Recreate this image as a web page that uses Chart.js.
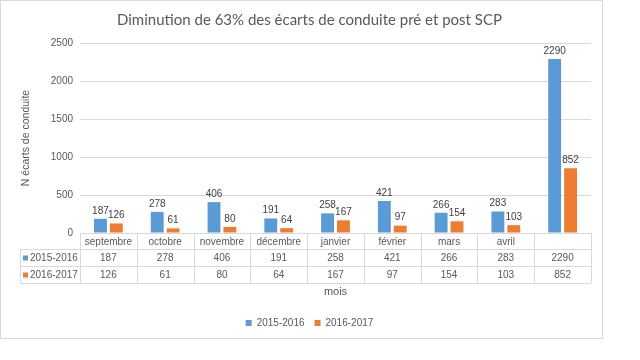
<!DOCTYPE html>
<html>
<head>
<meta charset="utf-8">
<script src="https://cdn.jsdelivr.net/npm/chart.js@4.4.0/dist/chart.umd.min.js"></script>
<style>
  body { margin: 0; background: #fff; }
  canvas { display: block; }
</style>
</head>
<body>
<canvas id="ecartsChart" width="640" height="360"></canvas>
<script>
var mois = ["septembre", "octobre", "novembre", "décembre", "janvier", "février", "mars", "avril", ""];
var serie1516 = [187, 278, 406, 191, 258, 421, 266, 283, 2290];
var serie1617 = [126, 61, 80, 64, 167, 97, 154, 103, 852];
var nomsSeries = ["2015-2016", "2016-2017"];
var couleurs = ["#5B9BD5", "#ED7D31"];

var texteGris = "#595959";
var ligneGrise = "#D9D9D9";
var police = "'Liberation Sans', Arial, sans-serif";

// fond blanc + cadre gris autour du graphique
var cadre = {
    id: "cadre",
    beforeDraw: function (chart) {
        var ctx = chart.ctx;
        ctx.save();
        ctx.fillStyle = "#fff";
        ctx.fillRect(0, 0, chart.width, chart.height);
        ctx.strokeStyle = ligneGrise;
        ctx.lineWidth = 1;
        ctx.strokeRect(0.5, 0.5, 602, 338);
        ctx.restore();
    }
};

// étiquettes de valeur au-dessus des barres
var etiquettes = {
    id: "etiquettes",
    afterDatasetsDraw: function (chart) {
        var ctx = chart.ctx;
        ctx.save();
        ctx.font = "10px " + police;
        ctx.fillStyle = "#404040";
        ctx.textAlign = "center";
        ctx.textBaseline = "bottom";
        chart.data.datasets.forEach(function (ds, d) {
            chart.getDatasetMeta(d).data.forEach(function (bar, i) {
                ctx.fillText(ds.data[i], bar.x, bar.y - 3);
            });
        });
        ctx.restore();
    }
};

// tableau de données sous l'axe des x
var tableau = {
    id: "tableau",
    afterDraw: function (chart) {
        var ctx = chart.ctx;
        var area = chart.chartArea;
        var n = mois.length;
        var w = (area.right - area.left) / n;
        var y0 = area.bottom;
        var rows = [y0, y0 + 16, y0 + 33, y0 + 50];
        var xLeg = 20;

        ctx.save();
        ctx.strokeStyle = ligneGrise;
        ctx.lineWidth = 1;
        ctx.beginPath();
        // lignes horizontales
        ctx.moveTo(area.left, rows[0] + 0.5);
        ctx.lineTo(area.right, rows[0] + 0.5);
        for (var r = 1; r < rows.length; r++) {
            ctx.moveTo(xLeg, Math.round(rows[r]) + 0.5);
            ctx.lineTo(area.right, Math.round(rows[r]) + 0.5);
        }
        // lignes verticales
        for (var i = 0; i <= n; i++) {
            var x = Math.round(area.left + i * w) + 0.5;
            ctx.moveTo(x, rows[0]);
            ctx.lineTo(x, rows[3]);
        }
        ctx.moveTo(xLeg + 0.5, rows[1]);
        ctx.lineTo(xLeg + 0.5, rows[3]);
        ctx.stroke();

        ctx.fillStyle = texteGris;
        ctx.font = "10px " + police;
        ctx.textAlign = "center";
        ctx.textBaseline = "middle";
        var series = [serie1516, serie1617];
        for (var j = 0; j < n; j++) {
            var cx = chart.scales.x.getPixelForValue(j);
            ctx.fillText(mois[j], cx, (rows[0] + rows[1]) / 2 + 1);
            for (var s = 0; s < series.length; s++) {
                ctx.fillText(series[s][j], cx, (rows[s + 1] + rows[s + 2]) / 2 + 1);
            }
        }
        // légende des lignes
        ctx.textAlign = "left";
        for (var k = 0; k < nomsSeries.length; k++) {
            var cy = (rows[k + 1] + rows[k + 2]) / 2 + 1;
            ctx.fillStyle = couleurs[k];
            ctx.fillRect(23, cy - 3, 5, 5);
            ctx.fillStyle = texteGris;
            ctx.fillText(nomsSeries[k], 30, cy);
        }
        ctx.restore();
    }
};

var ctx = document.getElementById("ecartsChart").getContext("2d");
var chart = new Chart(ctx, {
    type: "bar",
    data: {
        labels: mois,
        datasets: [{
            label: nomsSeries[0],
            data: serie1516,
            backgroundColor: couleurs[0],
            borderWidth: 0
        }, {
            label: nomsSeries[1],
            data: serie1617,
            backgroundColor: couleurs[1],
            borderWidth: 0
        }]
    },
    options: {
        responsive: false,
        animation: false,
        layout: { padding: { left: 14, right: 35, top: 0, bottom: 22 } },
        datasets: {
            bar: { categoryPercentage: 0.56, barPercentage: 0.81 }
        },
        plugins: {
            title: {
                display: true,
                text: "Diminution de 63% des écarts de conduite pré et post SCP",
                color: texteGris,
                font: { family: "Lato, sans-serif", size: 15, weight: "normal" },
                padding: { top: 11, bottom: 14 }
            },
            legend: {
                position: "bottom",
                labels: {
                    color: texteGris,
                    font: { family: police, size: 10 },
                    boxWidth: 6,
                    boxHeight: 6,
                    padding: 10
                }
            },
            tooltip: { enabled: false }
        },
        scales: {
            x: {
                grid: { display: false },
                border: { display: false },
                ticks: { display: false },
                title: {
                    display: true,
                    text: "mois",
                    color: texteGris,
                    font: { family: police, size: 11 },
                    padding: { top: 0, bottom: 9.4 }
                },
                afterFit: function (scale) { scale.height = 75; }
            },
            y: {
                min: 0,
                max: 2500,
                ticks: {
                    stepSize: 500,
                    color: texteGris,
                    font: { family: police, size: 10 },
                    padding: 7,
                    callback: function (v) { return String(v); }
                },
                grid: { color: ligneGrise, drawTicks: false },
                border: { display: false },
                title: {
                    display: true,
                    text: "N écarts de conduite",
                    color: texteGris,
                    font: { family: police, size: 10.5 },
                    padding: { top: 6, bottom: 0 }
                },
                afterFit: function (scale) { scale.width = 66; }
            },
            marge: {
                type: "linear",
                position: "right",
                grid: { display: false },
                border: { display: false },
                ticks: { display: false },
                afterFit: function (scale) { scale.width = 14; }
            }
        }
    },
    plugins: [cadre, etiquettes, tableau]
});
</script>
</body>
</html>
